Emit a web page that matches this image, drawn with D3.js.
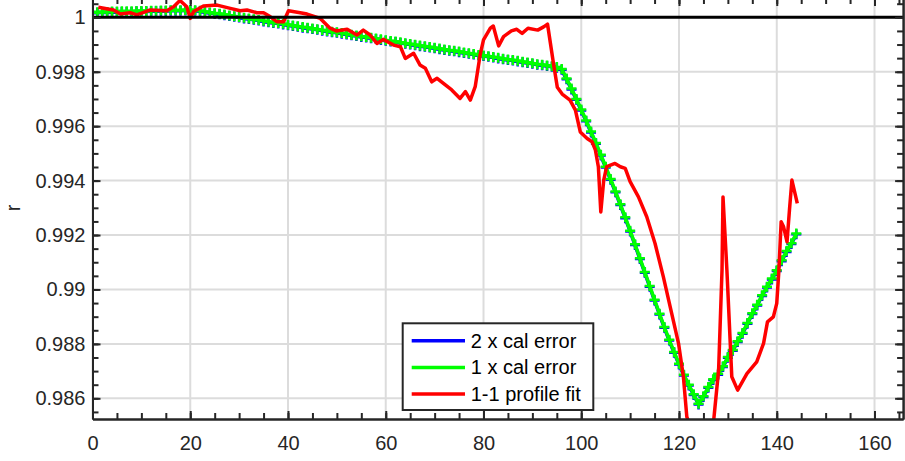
<!DOCTYPE html>
<html>
<head>
<meta charset="utf-8">
<script src="https://cdn.jsdelivr.net/npm/d3@7"></script>
<style>
    body { margin: 0; background: #fff; }
    svg { display: block; font-family: "Liberation Sans", Arial, sans-serif; }
</style>
</head>
<body>
<svg id="chart"></svg>
<script>
// step index along the track (one sample per unit)
const steps = d3.range(0, 145);

// 1 x cal error
const green = [
    1.00019, 1.00019, 1.00020, 1.00020, 1.00021, 1.00021, 1.00022, 1.00022, 1.00022, 1.00023,
    1.00023, 1.00023, 1.00024, 1.00024, 1.00025, 1.00025, 1.00026, 1.00026, 1.00026, 1.00027,
    1.00027, 1.00026, 1.00024, 1.00021, 1.00018, 1.00015, 1.00013, 1.00010, 1.00007, 1.00004,
    1.00001, 0.99998, 0.99996, 0.99993, 0.99990, 0.99987, 0.99984, 0.99981, 0.99979, 0.99976,
    0.99973, 0.99970, 0.99967, 0.99964, 0.99962, 0.99959, 0.99956, 0.99953, 0.99950, 0.99947,
    0.99945, 0.99942, 0.99939, 0.99936, 0.99933, 0.99930, 0.99928, 0.99925, 0.99922, 0.99919,
    0.99916, 0.99913, 0.99911, 0.99908, 0.99905, 0.99902, 0.99899, 0.99896, 0.99894, 0.99891,
    0.99888, 0.99885, 0.99882, 0.99879, 0.99877, 0.99874, 0.99871, 0.99868, 0.99865, 0.99862,
    0.99860, 0.99857, 0.99854, 0.99851, 0.99848, 0.99845, 0.99843, 0.99840, 0.99837, 0.99834,
    0.99831, 0.99828, 0.99826, 0.99823, 0.99820, 0.99817, 0.99810, 0.99775, 0.99738, 0.99700,
    0.99661, 0.99621, 0.99580, 0.99538, 0.99495, 0.99451, 0.99406, 0.99360, 0.99313, 0.99265,
    0.99216, 0.99166, 0.99115, 0.99064, 0.99013, 0.98962, 0.98911, 0.98862, 0.98815, 0.98770,
    0.98727, 0.98687, 0.98650, 0.98615, 0.98580, 0.98608, 0.98642, 0.98670, 0.98690, 0.98718,
    0.98752, 0.98778, 0.98810, 0.98840, 0.98877, 0.98913, 0.98944, 0.98979, 0.99010, 0.99040,
    0.99071, 0.99107, 0.99141, 0.99170, 0.99206
];

// 2 x cal error
const blue = [
    1.00017, 1.00017, 1.00018, 1.00018, 1.00019, 1.00019, 1.00020, 1.00020, 1.00020, 1.00021,
    1.00021, 1.00021, 1.00022, 1.00022, 1.00023, 1.00023, 1.00024, 1.00024, 1.00024, 1.00025,
    1.00025, 1.00024, 1.00022, 1.00019, 1.00016, 1.00013, 1.00011, 1.00008, 1.00005, 1.00002,
    0.99999, 0.99996, 0.99994, 0.99991, 0.99988, 0.99985, 0.99982, 0.99979, 0.99977, 0.99974,
    0.99971, 0.99968, 0.99965, 0.99962, 0.99960, 0.99957, 0.99954, 0.99951, 0.99948, 0.99945,
    0.99943, 0.99940, 0.99937, 0.99934, 0.99931, 0.99928, 0.99926, 0.99923, 0.99920, 0.99917,
    0.99914, 0.99911, 0.99909, 0.99906, 0.99903, 0.99900, 0.99897, 0.99894, 0.99892, 0.99889,
    0.99886, 0.99883, 0.99880, 0.99877, 0.99875, 0.99872, 0.99869, 0.99866, 0.99863, 0.99860,
    0.99858, 0.99855, 0.99852, 0.99849, 0.99846, 0.99843, 0.99841, 0.99838, 0.99835, 0.99832,
    0.99829, 0.99826, 0.99824, 0.99821, 0.99818, 0.99815, 0.99807, 0.99772, 0.99735, 0.99697,
    0.99658, 0.99618, 0.99577, 0.99535, 0.99492, 0.99448, 0.99403, 0.99357, 0.99310, 0.99262,
    0.99213, 0.99163, 0.99112, 0.99061, 0.99010, 0.98959, 0.98908, 0.98859, 0.98812, 0.98767,
    0.98724, 0.98684, 0.98647, 0.98612, 0.98577, 0.98605, 0.98639, 0.98667, 0.98687, 0.98715,
    0.98749, 0.98775, 0.98807, 0.98837, 0.98874, 0.98910, 0.98941, 0.98976, 0.99007, 0.99037,
    0.99068, 0.99104, 0.99138, 0.99167, 0.99203
];

// 1-1 profile fit
const fitX = [
    1.2, 4.3, 5.7, 7.7, 9.1, 11.8, 15.2, 16.6, 17.9, 19.3,
    20.0, 20.7, 22.7, 25.5, 28.2, 30.2, 31.6, 33.6, 35.0, 36.4,
    37.7, 39.1, 40.1, 42.5, 43.9, 46.6, 48.6, 49.9, 52.1, 54.1,
    55.4, 56.8, 58.2, 59.5, 61.6, 63.0, 64.0, 65.7, 67.0, 68.1,
    69.4, 70.5, 71.8, 73.5, 75.2, 76.3, 77.3, 78.3, 79.3, 80.0,
    81.4, 82.0, 83.1, 84.1, 85.7, 86.8, 87.9, 89.1, 91.1, 92.3,
    93.1, 94.3, 95.1, 96.1, 97.7, 98.8, 99.8, 101.2, 102.2, 102.9,
    103.5, 104.0, 104.6, 105.2, 106.9, 108.0, 109.0, 110.0, 111.7, 113.4,
    115.1, 116.8, 118.5, 119.9, 120.9, 121.6, 123.0, 125.0, 126.5, 127.1,
    128.1, 128.8, 129.0, 129.8, 130.8, 132.0, 133.9, 135.9, 137.3, 138.1,
    139.3, 140.0, 140.4, 140.9, 141.4, 142.1, 142.6, 143.1, 144.2
];
const fitY = [
    1.00037, 1.00027, 1.00012, 1.00017, 1.00009, 1.00027, 1.00024, 1.00039, 1.00062, 1.00039,
    0.99996, 1.00021, 1.00042, 1.00045, 1.00033, 1.00024, 1.00027, 1.00017, 1.00017, 1.00002,
    0.99984, 0.99984, 1.00024, 1.00017, 1.00012, 0.99996, 0.99960, 0.99950, 0.99956, 0.99935,
    0.99953, 0.99935, 0.99904, 0.99919, 0.99898, 0.99892, 0.99849, 0.99868, 0.99825, 0.99813,
    0.99763, 0.99776, 0.99757, 0.99733, 0.99702, 0.99727, 0.99696, 0.99745, 0.99861, 0.99917,
    0.99960, 0.99968, 0.99895, 0.99929, 0.99950, 0.99956, 0.99941, 0.99960, 0.99953, 0.99965,
    0.99975, 0.99832, 0.99743, 0.99718, 0.99696, 0.99659, 0.99579, 0.99555, 0.99543, 0.99512,
    0.99451, 0.99285, 0.99402, 0.99451, 0.99463, 0.99451, 0.99445, 0.99396, 0.99340, 0.99267,
    0.99169, 0.99046, 0.98912, 0.98802, 0.98679, 0.98532, 0.98465, 0.98440, 0.98480, 0.98520,
    0.98703, 0.99071, 0.99340, 0.99071, 0.98679, 0.98630, 0.98691, 0.98734, 0.98802, 0.98881,
    0.98899, 0.98949, 0.99059, 0.99249, 0.99230, 0.99175, 0.99292, 0.99402, 0.99316
];

// axis ticks
const xTicks = [0, 20, 40, 60, 80, 100, 120, 140, 160];
const xTickLabels = ["0", "20", "40", "60", "80", "100", "120", "140", "160"];
const yTicks = [0.986, 0.988, 0.99, 0.992, 0.994, 0.996, 0.998, 1];
const yTickLabels = ["0.986", "0.988", "0.99", "0.992", "0.994", "0.996", "0.998", "1"];
const xMinor = d3.range(0, 166, 5);
const yMinor = d3.range(0.9855, 1.0006, 0.0005);

const legendLabels = ["2 x cal error", "1 x cal error", "1-1 profile fit"];
const legendColors = ["#0000ff", "#00ff00", "#ff0000"];

let margin = {top: -2, left: 92.5},
    width = 810.6,
    height = 421;

let x = d3.scaleLinear().domain([0, 165.85]).range([0, width]);
let y = d3.scaleLinear().domain([0.98524, 1.00071]).range([height, 0]);

let svg = d3.select("#chart")
    .attr("width", 905)
    .attr("height", 461);

let g = svg.append("g")
    .attr("transform", "translate(" + margin.left + "," + margin.top + ")");

g.append("clipPath").attr("id", "plotclip")
    .append("rect").attr("width", width).attr("height", height);

// grid lines
g.selectAll(".gx").data(xTicks).enter().append("line")
    .attr("x1", d => x(d)).attr("x2", d => x(d))
    .attr("y1", 0).attr("y2", height)
    .attr("stroke", "#dcdcdc").attr("stroke-width", 2);
g.selectAll(".gy").data(yTicks).enter().append("line")
    .attr("x1", 0).attr("x2", width)
    .attr("y1", d => y(d)).attr("y2", d => y(d))
    .attr("stroke", "#dcdcdc").attr("stroke-width", 2);

let plot = g.append("g").attr("clip-path", "url(#plotclip)");

let line = d3.line().x(d => x(d[0])).y(d => y(d[1]));

function drawSeries(vals, color) {
    let pts = steps.map((s, i) => [s, vals[i]]);
    plot.append("path")
        .datum(pts)
        .attr("d", line)
        .attr("fill", "none")
        .attr("stroke", color)
        .attr("stroke-width", 3.5);
    // '+' markers
    plot.append("g").selectAll("path")
        .data(pts)
        .enter()
        .append("path")
        .attr("d", d => {
            let px = x(d[0]), py = y(d[1]);
            return "M" + (px - 5) + "," + py + "H" + (px + 5) + "M" + px + "," + (py - 5) + "V" + (py + 5);
        })
        .attr("stroke", color)
        .attr("stroke-width", 2.5)
        .attr("fill", "none");
}

drawSeries(blue, "#0000ff");
drawSeries(green, "#00ff00");

plot.append("path")
    .datum(fitX.map((v, i) => [v, fitY[i]]))
    .attr("d", line)
    .attr("fill", "none")
    .attr("stroke", "#ff0000")
    .attr("stroke-width", 3.5)
    .attr("stroke-linejoin", "round");

// reference line at r = 1
g.append("line")
    .attr("x1", 0).attr("x2", width)
    .attr("y1", y(1)).attr("y2", y(1))
    .attr("stroke", "#000").attr("stroke-width", 3);

// axes, ticks pointing inward on all four sides
function styleAxis(sel) {
    sel.select(".domain").attr("stroke", "#262626").attr("stroke-width", 2);
    sel.selectAll(".tick line").attr("stroke", "#262626").attr("stroke-width", 2);
    sel.selectAll("text").attr("fill", "#262626").style("font-size", "20px")
        .style("font-family", "'Liberation Sans', Arial, sans-serif");
}

g.append("g").attr("transform", "translate(0," + height + ")")
    .call(d3.axisBottom(x).tickValues(xMinor).tickFormat("").tickSize(-6).tickSizeOuter(0))
    .call(styleAxis);
g.append("g").attr("transform", "translate(0," + height + ")")
    .call(d3.axisBottom(x).tickValues(xTicks).tickFormat((d, i) => xTickLabels[i])
        .tickSize(-8).tickSizeOuter(0).tickPadding(17))
    .call(styleAxis);

g.append("g")
    .call(d3.axisTop(x).tickValues(xMinor).tickFormat("").tickSize(-6).tickSizeOuter(0))
    .call(styleAxis);
g.append("g")
    .call(d3.axisTop(x).tickValues(xTicks).tickFormat("").tickSize(-8).tickSizeOuter(0))
    .call(styleAxis);

g.append("g")
    .call(d3.axisLeft(y).tickValues(yMinor).tickFormat("").tickSize(-6).tickSizeOuter(0))
    .call(styleAxis);
g.append("g")
    .call(d3.axisLeft(y).tickValues(yTicks).tickFormat((d, i) => yTickLabels[i])
        .tickSize(-8).tickSizeOuter(0).tickPadding(7))
    .call(styleAxis);

g.append("g").attr("transform", "translate(" + width + ",0)")
    .call(d3.axisRight(y).tickValues(yMinor).tickFormat("").tickSize(-6).tickSizeOuter(0))
    .call(styleAxis);
g.append("g").attr("transform", "translate(" + width + ",0)")
    .call(d3.axisRight(y).tickValues(yTicks).tickFormat("").tickSize(-8).tickSizeOuter(0))
    .call(styleAxis);

// y label
svg.append("text")
    .attr("transform", "translate(20,208) rotate(-90)")
    .attr("text-anchor", "middle")
    .attr("fill", "#262626")
    .style("font-size", "20px")
    .text("r");

// legend
let legend = svg.append("g").attr("transform", "translate(402.7,323.3)");
legend.append("rect")
    .attr("width", 190.6).attr("height", 86.7)
    .attr("fill", "#fff")
    .attr("stroke", "#262626").attr("stroke-width", 2);
legendLabels.forEach((lab, i) => {
    let ly = 17.4 + i * 26.7;
    legend.append("line")
        .attr("x1", 9).attr("x2", 62.3)
        .attr("y1", ly).attr("y2", ly)
        .attr("stroke", legendColors[i]).attr("stroke-width", 3.5);
    legend.append("text")
        .attr("x", 68)
        .attr("y", ly + 7)
        .attr("fill", "#000")
        .style("font-size", "20px")
        .text(lab);
});
</script>
</body>
</html>
